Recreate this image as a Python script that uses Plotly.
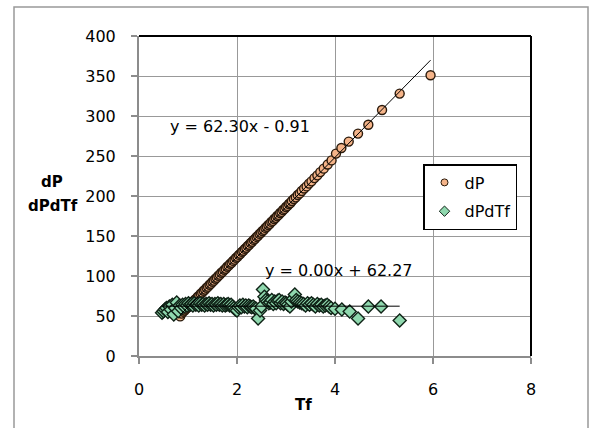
import plotly.graph_objects as go

# ---- data ----
dp_x = [0.84, 0.87, 0.90, 0.93, 0.96, 0.99, 1.02, 1.05, 1.08, 1.11, 1.14, 1.17, 1.20, 1.23,
        1.26, 1.29, 1.32, 1.35, 1.38, 1.41, 1.44, 1.47, 1.50, 1.53, 1.56, 1.59, 1.62, 1.65,
        1.68, 1.71, 1.74, 1.77, 1.80, 1.83, 1.86, 1.89, 1.92, 1.95, 1.98, 2.01, 2.04, 2.07,
        2.10, 2.13, 2.16, 2.19, 2.22, 2.25, 2.28, 2.31, 2.34, 2.37, 2.40, 2.43, 2.46, 2.49,
        2.52, 2.55, 2.58, 2.61, 2.64, 2.67, 2.70, 2.73, 2.76, 2.79, 2.82, 2.85, 2.88, 2.91,
        2.94, 2.97, 3.00, 3.03, 3.06, 3.09, 3.12, 3.16, 3.20, 3.24, 3.28, 3.32, 3.37, 3.42,
        3.47, 3.52, 3.58, 3.64, 3.70, 3.77, 3.85, 3.93, 4.02, 4.13, 4.28, 4.47, 4.68, 4.96,
        5.32, 5.95]
dp_y = [49.5, 53.0, 55.4, 56.8, 59.1, 60.6, 62.9, 64.3, 66.6, 68.0, 70.4, 71.8, 74.1, 75.5,
        77.8, 79.3, 81.6, 83.0, 85.3, 86.7, 89.1, 90.4, 92.8, 94.2, 96.5, 97.9, 100.3, 101.7,
        104.0, 105.4, 107.7, 109.1, 111.5, 112.9, 115.2, 116.6, 118.9, 120.4, 122.7, 124.1, 126.4, 127.8,
        130.2, 131.6, 133.9, 135.3, 137.6, 139.0, 141.4, 142.8, 145.1, 146.5, 148.9, 150.2, 152.6, 154.0,
        156.3, 157.7, 160.1, 161.5, 163.8, 165.2, 167.6, 168.9, 171.3, 172.7, 175.0, 176.4, 178.8, 180.1,
        182.5, 183.9, 186.2, 187.6, 190.0, 191.3, 193.7, 196.2, 198.3, 201.2, 203.2, 206.2, 209.3, 212.0,
        215.5, 218.3, 222.4, 225.8, 229.9, 234.2, 239.3, 244.5, 253.0, 260.0, 268.0, 278.0, 289.0, 307.5,
        328.0, 351.0]

dpdtf_x = [0.47, 0.50, 0.53, 0.56, 0.59, 0.62, 0.65, 0.68, 0.71, 0.74, 0.77, 0.80, 0.83, 0.86,
           0.89, 0.92, 0.95, 0.98, 1.01, 1.04, 1.07, 1.10, 1.13, 1.16, 1.19, 1.22, 1.25, 1.28,
           1.31, 1.34, 1.37, 1.40, 1.43, 1.46, 1.49, 1.52, 1.55, 1.58, 1.61, 1.64, 1.67, 1.70,
           1.73, 1.76, 1.79, 1.82, 1.85, 1.88, 1.91, 1.94, 1.97, 2.00, 2.03, 2.06, 2.09, 2.12,
           2.15, 2.18, 2.21, 2.24, 2.27, 2.30, 2.33, 2.36, 2.39, 2.43, 2.47, 2.50, 2.53, 2.56,
           2.59, 2.62, 2.65, 2.68, 2.71, 2.74, 2.77, 2.80, 2.83, 2.86, 2.89, 2.92, 2.95, 2.98,
           3.01, 3.04, 3.08, 3.11, 3.15, 3.18, 3.21, 3.24, 3.28, 3.32, 3.36, 3.40, 3.44, 3.48,
           3.52, 3.56, 3.60, 3.64, 3.68, 3.72, 3.76, 3.80, 3.84, 3.88, 3.92, 4.00, 4.14, 4.30,
           4.47, 4.68, 4.94, 5.32]
dpdtf_y = [54, 56, 58, 60, 55, 62, 58, 64, 52, 60, 67, 56, 63, 60,
           64, 62, 65, 63, 66, 64, 65, 63, 66, 64, 65, 63, 66, 64,
           65, 63, 65, 64, 66, 64, 65, 63, 65, 64, 66, 64, 65, 63,
           65, 63, 64, 65, 63, 64, 62, 60, 58, 57, 61, 63, 61, 64,
           62, 63, 61, 63, 62, 61, 62, 60, 59, 47, 57, 62, 83, 74,
           70, 68, 66, 67, 70, 65, 68, 66, 69, 70, 66, 68, 65, 67,
           66, 64, 62, 68, 72, 77, 70, 68, 67, 66, 65, 63, 66, 64,
           66, 64, 62, 65, 63, 64, 62, 63, 64, 62, 60, 59, 58, 55.5,
           47, 62, 62, 44.5]

fit1_slope, fit1_intercept = 62.30, -0.91
fit2_slope, fit2_intercept = 0.00, 62.27
fit1_label = "y = 62.30x - 0.91"
fit2_label = "y = 0.00x + 62.27"

x_ticks = [0, 2, 4, 6, 8]
y_ticks = [0, 50, 100, 150, 200, 250, 300, 350, 400]

FONT = "DejaVu Sans, Liberation Sans, Arial, sans-serif"
DP_FILL, DP_EDGE = "#F5B489", "#2a1a0c"
DT_FILL, DT_EDGE = "#8FD8AE", "#0f2216"

fig = go.Figure()

# trendlines spanning each series' data range
t1x = [min(dp_x), max(dp_x)]
t1y = [fit1_slope * v + fit1_intercept for v in t1x]
t2x = [min(dpdtf_x), max(dpdtf_x)]
t2y = [fit2_slope * v + fit2_intercept for v in t2x]

fig.add_trace(go.Scatter(x=dp_x, y=dp_y, mode="markers", name="dP", showlegend=False,
                         marker=dict(symbol="circle", size=9, color=DP_FILL,
                                     line=dict(color=DP_EDGE, width=1.4))))
fig.add_trace(go.Scatter(x=dpdtf_x, y=dpdtf_y, mode="markers", name="dPdTf", showlegend=False,
                         marker=dict(symbol="diamond", size=10, color=DT_FILL,
                                     line=dict(color=DT_EDGE, width=1.4))))
fig.add_trace(go.Scatter(x=t1x, y=t1y, mode="lines", showlegend=False,
                         line=dict(color="black", width=1)))
fig.add_trace(go.Scatter(x=t2x, y=t2y, mode="lines", showlegend=False,
                         line=dict(color="black", width=1)))
# legend entries (small symbols like the reference)
fig.add_trace(go.Scatter(x=[None], y=[None], mode="markers", name="dP", legendgroup="a",
                         marker=dict(symbol="circle", size=7, color=DP_FILL,
                                     line=dict(color=DP_EDGE, width=1))))
fig.add_trace(go.Scatter(x=[None], y=[None], mode="markers", name="dPdTf", legendgroup="b",
                         marker=dict(symbol="diamond", size=8, color=DT_FILL,
                                     line=dict(color=DT_EDGE, width=1))))

W, H = 592, 428
L, R, T, B = 139, 61, 36, 72
pw, ph = W - L - R, H - T - B

def px(xp):
    return (xp - L) / pw

def py(yp):
    return (H - B - yp) / ph

fig.update_layout(
    width=W, height=H,
    margin=dict(l=L, r=R, t=T, b=B, pad=0),
    paper_bgcolor="white", plot_bgcolor="white",
    font=dict(family=FONT, size=16, color="black"),
    showlegend=True,
    legend=dict(x=px(423), y=py(164), xanchor="left", yanchor="top",
                bordercolor="black", borderwidth=1.5, bgcolor="white",
                font=dict(size=16), tracegroupgap=5, itemwidth=30,
                entrywidth=62),
    xaxis=dict(range=[0, 8], tickvals=x_ticks, ticktext=[str(v) for v in x_ticks],
               showgrid=True, gridcolor="#999999", gridwidth=1,
               showline=True, linecolor="#8c8c8c", linewidth=2,
               ticks="outside", ticklen=6, tickcolor="#8c8c8c", tickwidth=1.5,
               ticklabelstandoff=12, zeroline=False),
    yaxis=dict(range=[0, 400], tickvals=y_ticks, ticktext=[str(v) for v in y_ticks],
               showgrid=True, gridcolor="#999999", gridwidth=1,
               showline=True, linecolor="#8c8c8c", linewidth=2,
               ticks="outside", ticklen=6, tickcolor="#8c8c8c", tickwidth=1.5,
               ticklabelstandoff=12, zeroline=False),
    shapes=[
        dict(type="line", xref="paper", yref="paper", x0=0, x1=1, y0=1, y1=1,
             line=dict(color="black", width=2), layer="above"),
        dict(type="line", xref="paper", yref="paper", x0=1, x1=1, y0=0, y1=1,
             line=dict(color="black", width=2), layer="above"),
        dict(type="rect", xref="paper", yref="paper", x0=px(14), x1=px(588),
             y0=py(445), y1=py(7), line=dict(color="#999999", width=1.5),
             fillcolor="rgba(0,0,0,0)", layer="below"),
    ],
    annotations=[
        dict(text=fit1_label, x=0.59, y=287, xref="x", yref="y", xanchor="left",
             yanchor="middle", showarrow=False, font=dict(size=16)),
        dict(text=fit2_label, x=2.53, y=107, xref="x", yref="y", xanchor="left",
             yanchor="middle", showarrow=False, font=dict(size=16)),
        dict(text="<b>dP</b>", x=px(52), y=py(182), xref="paper", yref="paper",
             xanchor="center", yanchor="middle", showarrow=False, font=dict(size=15)),
        dict(text="<b>dPdTf</b>", x=px(53), y=py(206), xref="paper", yref="paper",
             xanchor="center", yanchor="middle", showarrow=False, font=dict(size=15)),
        dict(text="<b>Tf</b>", x=px(303), y=py(405), xref="paper", yref="paper",
             xanchor="center", yanchor="middle", showarrow=False, font=dict(size=15)),
    ],
)

fig.write_html("out.html")
